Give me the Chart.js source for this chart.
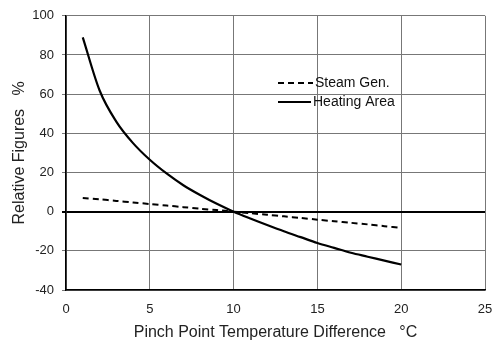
<!DOCTYPE html>
<html>
<head>
<meta charset="utf-8">
<script src="https://cdn.jsdelivr.net/npm/chart.js@4/dist/chart.umd.min.js"></script>
<style>
  html, body { margin: 0; padding: 0; background: #fff; }
  #wrap { width: 492px; height: 342px; }
</style>
</head>
<body>
<div id="wrap"><canvas id="chart" width="492" height="342"></canvas></div>
<script>
// pinch point temperature difference (°C)
const pinchDiff = [1, 2, 3, 4, 5, 6, 7, 8, 9, 10, 11, 12, 13, 14, 15, 16, 17, 18, 19, 20];
const steamGen = [7, 6.3, 5.5, 4.7, 3.9, 3.1, 2.3, 1.5, 0.8, 0, -0.8, -1.6, -2.4, -3.2, -4.1, -4.9, -5.7, -6.5, -7.4, -8.3];
const heatingArea = [89, 62, 46, 35, 26.5, 19.5, 13.5, 8.5, 4, 0, -3.5, -6.8, -10, -13, -16, -18.5, -21, -23, -25, -27];
const xTicks = [0, 5, 10, 15, 20, 25];
const yTicks = [-40, -20, 0, 20, 40, 60, 80, 100];

const FONT = '"Liberation Sans", Arial, sans-serif';

function toPoints(vals) {
    return pinchDiff.map((x, i) => ({ x: x, y: vals[i] }));
}

// legend drawn inside the plot
const innerLegend = {
    id: 'innerLegend',
    afterDraw(chart) {
        const ctx = chart.ctx;
        const rows = [{ y: 83, x0: 278, x1: 313 }, { y: 102, x0: 278, x1: 311 }];
        ctx.save();
        chart.data.datasets.forEach((ds, i) => {
            const r = rows[i];
            ctx.strokeStyle = '#000';
            ctx.lineWidth = 2;
            ctx.setLineDash(ds.borderDash || []);
            ctx.beginPath();
            ctx.moveTo(r.x0, r.y);
            ctx.lineTo(r.x1, r.y);
            ctx.stroke();
            ctx.setLineDash([]);
            ctx.fillStyle = '#111';
            ctx.font = '14px ' + FONT;
            ctx.textBaseline = 'middle';
            ctx.fillText(ds.label, r.x1 + 2, r.y);
        });
        ctx.restore();
    }
};

new Chart(document.getElementById('chart'), {
    type: 'line',
    data: {
        datasets: [{
            label: 'Steam Gen.',
            data: toPoints(steamGen),
            borderColor: '#000',
            borderWidth: 2,
            borderDash: [6, 4],
            pointRadius: 0,
            tension: 0.3
        }, {
            label: 'Heating Area',
            data: toPoints(heatingArea),
            borderColor: '#000',
            borderWidth: 2.2,
            pointRadius: 0,
            cubicInterpolationMode: 'monotone'
        }]
    },
    options: {
        responsive: false,
        animation: false,
        layout: { padding: { top: 15, right: 0, left: 0, bottom: 0 } },
        plugins: {
            legend: { display: false },
            tooltip: { enabled: false }
        },
        scales: {
            x: {
                type: 'linear',
                min: 0,
                max: 25,
                afterBuildTicks: (s) => { s.ticks = xTicks.map(v => ({ value: v })); },
                afterFit: (s) => { s.height = 52; s.paddingRight = 7; s.paddingLeft = 0; },
                grid: { color: '#777', lineWidth: 1, drawTicks: false },
                border: { color: '#000', width: 1.5 },
                ticks: { color: '#222', font: { family: FONT, size: 13 }, padding: 12, maxRotation: 0 },
                title: {
                    display: true,
                    text: 'Pinch Point Temperature Difference   \u00B0C',
                    color: '#222',
                    font: { family: FONT, size: 16 },
                    padding: { top: 4, bottom: 0 }
                }
            },
            y: {
                min: -40,
                max: 100,
                afterBuildTicks: (s) => { s.ticks = yTicks.map(v => ({ value: v })); },
                afterFit: (s) => { s.width = 66; },
                grid: {
                    color: (c) => c.tick && c.tick.value === 0 ? '#000' : '#777',
                    lineWidth: (c) => c.tick && c.tick.value === 0 ? 2 : 1,
                    drawTicks: true,
                    tickLength: 4
                },
                border: { color: '#000', width: 1.5 },
                ticks: { color: '#222', font: { family: FONT, size: 13 }, padding: 8 },
                title: {
                    display: true,
                    text: 'Relative Figures   %',
                    color: '#222',
                    font: { family: FONT, size: 16 },
                    padding: { top: 10, bottom: 0 }
                }
            }
        }
    },
    plugins: [innerLegend]
});
</script>
</body>
</html>
